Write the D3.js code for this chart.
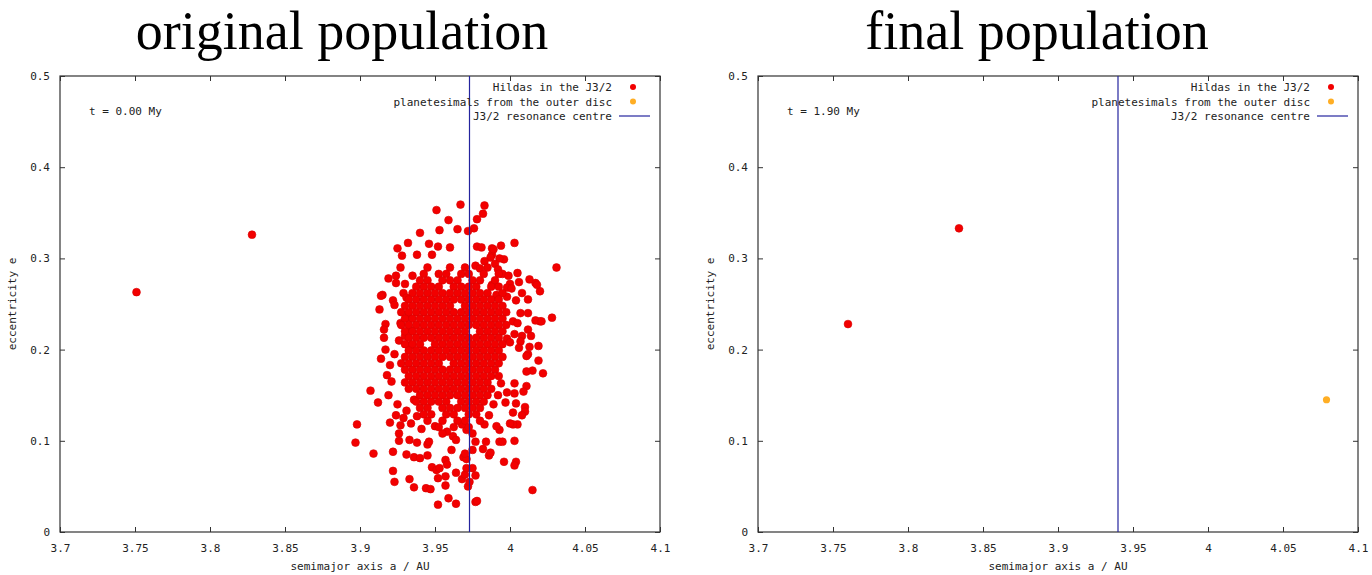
<!DOCTYPE html>
<html>
<head>
<meta charset="utf-8">
<script src="https://cdn.jsdelivr.net/npm/d3@7"></script>
<style>
  body { margin: 0; background: #fff; }
  svg { display: block; }
  .tick text { font-family: "DejaVu Sans Mono", monospace; font-size: 11px; fill: #222; }
  .lab { font-family: "DejaVu Sans Mono", monospace; font-size: 11px; fill: #222; }
  .ttl { font-family: "Liberation Serif", "DejaVu Serif", serif; font-size: 54px; fill: #000; }
</style>
</head>
<body>
<div id="fig"></div>
<script>
// tick values
var xTicks = [3.7, 3.75, 3.8, 3.85, 3.9, 3.95, 4, 4.05, 4.1];
var yTicks = [0, 0.1, 0.2, 0.3, 0.4, 0.5];

var titres = ["original population", "final population"];
var temps = ["t = 0.00 My", "t = 1.90 My"];
var centreResonance = [3.973, 3.940];
var legende = ["Hildas in the J3/2", "planetesimals from the outer disc", "J3/2 resonance centre"];

// Hildas at t=0, sparse points [a, e]
var hildasDebut = [
  [3.751,0.263],[3.828,0.326],
  [3.951,0.353],[3.967,0.359],[3.959,0.342],[3.940,0.328],[3.953,0.331],[3.965,0.332],[3.983,0.358],[3.982,0.349],[3.978,0.343],[3.976,0.333],[3.972,0.330],
  [3.932,0.317],[3.946,0.316],[3.925,0.311],[3.928,0.303],[3.938,0.304],[3.952,0.313],[3.960,0.312],[3.948,0.304],
  [3.978,0.313],[3.981,0.312],[3.988,0.311],[3.988,0.304],[3.987,0.301],[3.994,0.314],[4.003,0.317],[3.989,0.310],
  [3.927,0.290],[3.919,0.278],[3.924,0.281],[3.935,0.281],[3.924,0.273],[3.930,0.272],[3.915,0.260],[3.922,0.254],[3.913,0.244],[3.923,0.249],[3.929,0.262],[3.931,0.257],[3.914,0.259],
  [3.917,0.228],[3.916,0.222],[3.916,0.213],[3.927,0.229],[3.926,0.210],[3.932,0.236],[3.933,0.222],[3.930,0.215],[3.933,0.204],
  [4.031,0.290],[4.028,0.235],[4.020,0.264],[4.017,0.273],[4.013,0.277],[4.005,0.284],[3.996,0.299],[3.993,0.300],[4.020,0.231],[4.017,0.232],[4.012,0.240],[4.012,0.255],[4.008,0.262],[4.004,0.254],[4.019,0.204],[4.019,0.188],[4.013,0.203],[4.012,0.195],[4.008,0.215],
  [3.983,0.297],[3.990,0.294],[3.977,0.292],[3.980,0.289],[3.992,0.288],[3.995,0.283],[3.999,0.281],[4.018,0.271],[4.006,0.274],[3.988,0.271],[4.000,0.272],[3.998,0.268],[4.001,0.267],[3.991,0.260],[3.998,0.258],
  [4.007,0.240],[4.021,0.231],[4.002,0.231],[4.005,0.229],[4.012,0.222],[4.014,0.215],[4.003,0.217],[4.007,0.209],[3.998,0.212],[4.000,0.208],[4.006,0.202],
  [4.011,0.193],[4.022,0.174],[4.015,0.177],[4.011,0.176],[4.003,0.163],[4.011,0.160],[4.009,0.154],[4.003,0.152],[3.998,0.153],[4.010,0.137],[4.010,0.132],[4.008,0.128],[4.004,0.141],[4.002,0.131],[3.997,0.142],
  [4.005,0.118],[4.002,0.118],[4.000,0.119],[3.993,0.112],[3.991,0.116],[4.003,0.100],[3.993,0.099],[3.995,0.099],[3.984,0.099],[3.977,0.099],[3.982,0.091],[3.986,0.084],[3.987,0.087],[3.996,0.077],[4.004,0.077],[4.003,0.073],[4.015,0.046],
  [3.907,0.155],[3.912,0.142],[3.898,0.118],[3.897,0.098],[3.909,0.086],[3.922,0.088],[3.922,0.067],[3.923,0.055],[3.933,0.058],[3.936,0.049],[3.944,0.048],[3.947,0.047],[3.952,0.030],[3.959,0.037],[3.964,0.031],[3.977,0.033],[3.978,0.034],
  [3.972,0.050],[3.973,0.055],[3.957,0.051],[3.957,0.061],[3.952,0.059],[3.964,0.065],[3.968,0.058],[3.970,0.063],[3.971,0.070],[3.948,0.071],[3.951,0.068],[3.953,0.070],[3.957,0.079],[3.958,0.074],[3.969,0.082],[3.971,0.080],
  [3.961,0.090],[3.975,0.090],[3.936,0.082],[3.940,0.081],[3.931,0.085],[3.945,0.084],[3.938,0.098],[3.945,0.096],[3.946,0.099],[3.933,0.101],[3.926,0.100],[3.926,0.108],[3.927,0.117],[3.920,0.120],[3.934,0.119],
  [3.962,0.105],[3.964,0.101],[3.971,0.112],[3.975,0.070],[3.977,0.062],[3.970,0.086],
  [3.918,0.172],[3.921,0.165],[3.914,0.190],[3.920,0.183],[3.917,0.200],[3.923,0.195],[3.919,0.150],[3.925,0.140],[3.924,0.128],[3.929,0.125],
  [3.938,0.127],[3.931,0.133],[3.936,0.145],[3.941,0.113],[3.950,0.116],[3.958,0.110],[3.968,0.118],[3.983,0.118],[3.986,0.128],[3.989,0.140],[3.992,0.150],[3.994,0.163]
];

// dense core of the cloud, row by row: [e, [a ...]]
var hildasCoeur = [
  [0.290, [3.945,3.960,3.970,3.985]],
  [0.283, [3.9425,3.9525,3.9575,3.9675,3.9725,3.9825,3.9925]],
  [0.276, [3.940,3.945,3.955,3.960,3.965,3.975,3.980,3.990]],
  [0.269, [3.9375,3.9425,3.9475,3.9525,3.9625,3.9675,3.9725,3.9775,3.9875,3.9925]],
  [0.262, [3.935,3.940,3.945,3.950,3.955,3.960,3.965,3.970,3.975,3.980,3.985,3.995]],
  [0.255, [3.9325,3.9375,3.9425,3.9475,3.9525,3.9575,3.9625,3.9675,3.9725,3.9775,3.9825,3.9875,3.9925]],
  [0.248, [3.930,3.935,3.940,3.945,3.950,3.955,3.960,3.970,3.975,3.980,3.985,3.990,3.995]],
  [0.241, [3.9275,3.9325,3.9375,3.9425,3.9475,3.9525,3.9575,3.9625,3.9675,3.9725,3.9775,3.9825,3.9875,3.9925,3.9975]],
  [0.234, [3.930,3.935,3.940,3.945,3.950,3.955,3.960,3.965,3.970,3.975,3.980,3.985,3.990,3.995]],
  [0.227, [3.9275,3.9325,3.9375,3.9425,3.9475,3.9525,3.9575,3.9625,3.9675,3.9725,3.9775,3.9825,3.9875,3.9925,3.9975]],
  [0.220, [3.930,3.935,3.940,3.945,3.950,3.955,3.960,3.965,3.970,3.980,3.985,3.990,3.995]],
  [0.213, [3.9325,3.9375,3.9425,3.9475,3.9525,3.9575,3.9625,3.9675,3.9725,3.9775,3.9825,3.9875,3.9925]],
  [0.206, [3.930,3.935,3.940,3.950,3.955,3.960,3.965,3.970,3.975,3.980,3.985,3.990,3.995]],
  [0.199, [3.9325,3.9375,3.9425,3.9475,3.9525,3.9575,3.9625,3.9675,3.9725,3.9775,3.9825,3.9875,3.9925]],
  [0.192, [3.930,3.935,3.940,3.945,3.950,3.955,3.960,3.965,3.970,3.975,3.980,3.985,3.990,3.995]],
  [0.185, [3.9275,3.9325,3.9375,3.9425,3.9475,3.9525,3.9625,3.9675,3.9725,3.9775,3.9825,3.9875,3.9925]],
  [0.178, [3.930,3.935,3.940,3.945,3.950,3.955,3.960,3.965,3.970,3.975,3.980,3.985,3.990]],
  [0.171, [3.9325,3.9375,3.9425,3.9475,3.9525,3.9575,3.9625,3.9675,3.9725,3.9775,3.9825,3.9875,3.9925]],
  [0.164, [3.930,3.935,3.940,3.945,3.950,3.955,3.960,3.965,3.970,3.975,3.980,3.985]],
  [0.157, [3.9325,3.9375,3.9425,3.9475,3.9525,3.9575,3.9625,3.9675,3.9725,3.9775,3.9825,3.9875]],
  [0.150, [3.940,3.945,3.950,3.955,3.960,3.965,3.970,3.975,3.980,3.985]],
  [0.143, [3.9375,3.9425,3.9475,3.9525,3.9575,3.9675,3.9725,3.9775,3.9825]],
  [0.136, [3.940,3.945,3.955,3.960,3.965,3.970,3.975,3.980]],
  [0.129, [3.9425,3.9475,3.9575,3.9625,3.9725,3.9775]],
  [0.122, [3.945,3.955,3.965,3.970,3.980]],
  [0.115, [3.9525,3.9625,3.9725]],
  [0.108, [3.955,3.975]]
];

// final state
var hildasFin = [[3.760,0.228],[3.834,0.333]];
var planetesimauxFin = [[4.079,0.145]];

var rouge = "#f20000", orange = "#ffae24", bleu = "#24249e";

var svg = d3.select("#fig").append("svg").attr("width", 1372).attr("height", 575);

var debut = hildasDebut.slice();
hildasCoeur.forEach(function(r) { r[1].forEach(function(a) { debut.push([a, r[0]]); }); });

var panneaux = [
  { x0: 60, centre: 342, rouges: debut, oranges: [] },
  { x0: 758, centre: 1037, rouges: hildasFin, oranges: planetesimauxFin }
];

panneaux.forEach(function(p, i) {
  var x = d3.scaleLinear().domain([3.7, 4.1]).range([p.x0, p.x0 + 600]);
  var y = d3.scaleLinear().domain([0, 0.5]).range([532, 76]);
  var g = svg.append("g");

  g.append("text").attr("class", "ttl").attr("x", p.centre).attr("y", 49)
    .attr("text-anchor", "middle").text(titres[i]);

  var fmt = function(d) { return d3.format("")(+d.toFixed(2)); };
  g.append("g").attr("transform", "translate(0,532)")
    .call(d3.axisBottom(x).tickValues(xTicks).tickSize(-5).tickPadding(12).tickFormat(fmt));
  g.append("g").attr("transform", "translate(0,76)")
    .call(d3.axisTop(x).tickValues(xTicks).tickSize(-5).tickFormat(""));
  g.append("g").attr("transform", "translate(" + p.x0 + ",0)")
    .call(d3.axisLeft(y).tickValues(yTicks).tickSize(-5).tickPadding(10).tickFormat(fmt));
  g.append("g").attr("transform", "translate(" + (p.x0 + 600) + ",0)")
    .call(d3.axisRight(y).tickValues(yTicks).tickSize(-5).tickFormat(""));
  g.selectAll(".domain").remove();
  g.selectAll(".tick line").attr("stroke", "#333");

  g.append("rect").attr("x", p.x0).attr("y", 76).attr("width", 600).attr("height", 456)
    .attr("fill", "none").attr("stroke", "#333").attr("stroke-width", 1.2);

  g.append("text").attr("class", "lab").attr("x", p.x0 + 300).attr("y", 570)
    .attr("text-anchor", "middle").text("semimajor axis a / AU");
  g.append("text").attr("class", "lab").attr("transform", "translate(" + (p.x0 - 44) + ",304) rotate(-90)")
    .attr("text-anchor", "middle").text("eccentricity e");

  g.append("text").attr("class", "lab").attr("x", p.x0 + 29).attr("y", 115).text(temps[i]);

  g.selectAll(".pr").data(p.rouges).enter().append("circle")
    .attr("cx", function(d) { return x(d[0]); }).attr("cy", function(d) { return y(d[1]); })
    .attr("r", 3.9).attr("fill", rouge).attr("stroke", "#d80000").attr("stroke-width", 0.6);
  g.selectAll(".po").data(p.oranges).enter().append("circle")
    .attr("cx", function(d) { return x(d[0]); }).attr("cy", function(d) { return y(d[1]); })
    .attr("r", 3.6).attr("fill", orange);

  g.append("line").attr("x1", x(centreResonance[i])).attr("x2", x(centreResonance[i]))
    .attr("y1", 76).attr("y2", 532).attr("stroke", bleu).attr("stroke-width", 1.2);

  // legend
  var lx = p.x0 + 552;
  legende.forEach(function(t, k) {
    g.append("text").attr("class", "lab").attr("x", lx).attr("y", 91 + k * 14.5)
      .attr("text-anchor", "end").text(t);
  });
  g.append("circle").attr("cx", lx + 21).attr("cy", 87).attr("r", 3).attr("fill", rouge);
  g.append("circle").attr("cx", lx + 21).attr("cy", 101.5).attr("r", 3).attr("fill", orange);
  g.append("line").attr("x1", lx + 7).attr("x2", lx + 38).attr("y1", 116).attr("y2", 116)
    .attr("stroke", bleu).attr("stroke-width", 1.2);
});
</script>
</body>
</html>
